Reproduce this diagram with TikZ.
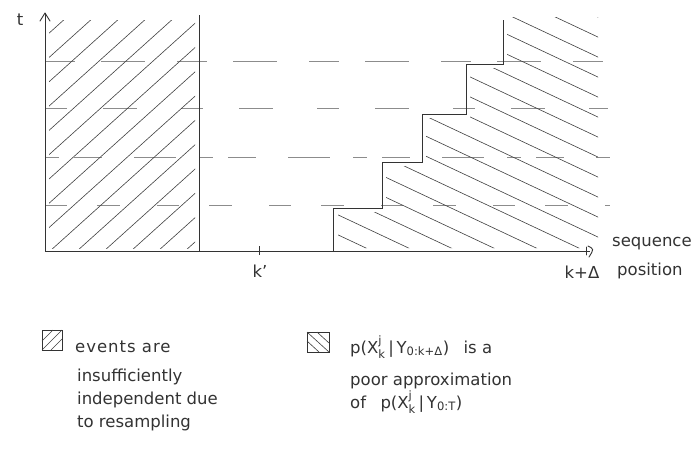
\documentclass[tikz,border=0pt]{standalone}
\usepackage{amsmath}
\usepackage{fontspec}
\setmainfont{DejaVu Sans}
\begin{document}
\begin{tikzpicture}[x=1pt,y=-1pt,
  pencil/.style={draw=black!80, line width=0.9pt},
  hatchline/.style={draw=black!75, line width=0.6pt},
  gridline/.style={draw=black!45, line width=0.8pt},
  lbl/.style={font=\fontsize{16.5}{23}\selectfont, text=black!80, inner sep=0pt},
  lline/.style={lbl, anchor=base west}]
\useasboundingbox (0,0) rectangle (697,448);
\fill[white] (0,0) rectangle (697,448);

% dashed time levels
\draw[gridline, dash pattern=on 30pt off 26pt on 44pt off 32pt] (45,61) -- (608,61);
\draw[gridline, dash pattern=on 22pt off 36pt on 34pt off 44pt] (45,108) -- (608,108);
\draw[gridline, dash pattern=on 14pt off 15pt on 28pt off 32pt on 42pt off 23pt] (45,157) -- (610,157);
\draw[gridline, dash pattern=on 22pt off 30pt on 23pt off 37pt] (45,205) -- (610,205);

% left hatched region
\begin{scope}
  \clip (49,20) rectangle (195,248);
  \foreach \c in {-247,-220,...,197}
    \draw[hatchline] (\c,251) -- ++(300,-270);
\end{scope}

% right hatched region
\begin{scope}
  \clip (338,248) -- (338,212) -- (386,212) -- (386,166) -- (426,166) -- (426,118)
        -- (470,118) -- (470,68) -- (507,68) -- (507,17) -- (598,17) -- (598,248) -- cycle;
  \foreach \c in {18,38,...,378}
    \draw[hatchline] (300,\c-141) -- (620,\c+9.4);
\end{scope}

% axes
\coordinate (O) at (45,251);
\coordinate (ytop) at (45,13);
\coordinate (xend) at (590,251);
\draw[pencil] (O) -- (ytop);
\draw[pencil] (O) -- (xend);
% arrow heads
\coordinate (ya) at (40,21);
\coordinate (yb) at (50,21);
\draw[pencil, line cap=round, line join=round] (ya) -- (ytop) -- (yb);
\coordinate (xt0) at (586,247);
\coordinate (xt1) at (586,255);
\draw[pencil, line cap=round] (xt0) -- (xt1);
\coordinate (xb0) at (588,246);
\coordinate (xb1) at (589,257);
\draw[pencil, line cap=round] (xb0) .. controls (594,249) .. (xb1);

% boundary of left region
\coordinate (kl0) at (199,251);
\coordinate (kl1) at (199,15);
\draw[pencil] (kl0) -- (kl1);

% staircase
\coordinate (s0) at (333,251);
\coordinate (s1) at (382,208);
\coordinate (s2) at (422,162);
\coordinate (s3) at (466,114);
\coordinate (s4) at (503,64);
\coordinate (s5) at (503,20);
\draw[pencil] (s0) |- (s1) |- (s2) |- (s3) |- (s4) -- (s5);

% tick k'
\coordinate (kt0) at (259,246);
\coordinate (kt1) at (259,255);
\draw[pencil] (kt0) -- (kt1);

% labels
\node[lbl] (tl) at (20,20) {t};
\node[lbl] (kp) at (260,271) {k'};
\node[lbl] (kd) at (582,272) {k+Δ};
\node[lbl, anchor=west] (seq) at (612,244) {sequence};
\node[lbl, anchor=west] (pos) at (617,271) {position};

% legend left
\draw[pencil, line width=0.7pt] (42,330) rectangle (62,350);
\draw[hatchline] (42,350) -- (62,330) (42,341) -- (53,330) (51,350) -- (62,339);
\node[lline] (l1a) at (75,352) {\addfontfeature{LetterSpace=6}events are};
\node[lline] (l1b) at (77,381) {insufficiently};
\node[lline] (l1c) at (77,404) {independent due};
\node[lline] (l1d) at (77,427) {to resampling};

% legend right
\draw[pencil, line width=0.7pt] (307,332) rectangle (329,352);
\draw[hatchline] (307,332) -- (329,352) (307,341) -- (319,352) (317,332) -- (329,343);
\node[lline] (l2a) at (350,353) {p(X$^{\text{j}}_{\text{k}}$\,|\,Y$_{\text{0:k+Δ}}$)\;\; is a};
\node[lline] (l2b) at (350,385) {poor approximation};
\node[lline] (l2c) at (350,408) {of\;\; p(X$^{\text{j}}_{\text{k}}$\,|\,Y$_{\text{0:T}}$)};
\end{tikzpicture}
\end{document}
